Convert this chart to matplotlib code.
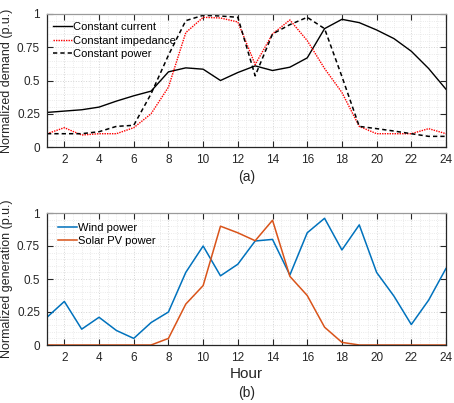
import matplotlib
matplotlib.use("Agg")
import matplotlib.pyplot as plt
from matplotlib.ticker import MultipleLocator

plt.rcParams['font.family'] = ['Liberation Sans', 'DejaVu Sans']

hours = list(range(1, 25))
const_current = [0.26, 0.27, 0.28, 0.30, 0.345, 0.385, 0.42, 0.565, 0.595, 0.585, 0.50, 0.56,
                 0.61, 0.575, 0.60, 0.67, 0.89, 0.96, 0.935, 0.88, 0.815, 0.72, 0.59, 0.434]
const_impedance = [0.10, 0.145, 0.09, 0.10, 0.10, 0.145, 0.25, 0.45, 0.86, 0.975, 0.97, 0.94,
                   0.62, 0.85, 0.955, 0.80, 0.59, 0.41, 0.155, 0.10, 0.10, 0.10, 0.138, 0.10]
const_power = [0.10, 0.10, 0.10, 0.115, 0.155, 0.163, 0.40, 0.69, 0.95, 0.99, 0.985, 0.975,
               0.535, 0.85, 0.92, 0.975, 0.89, 0.53, 0.155, 0.138, 0.12, 0.10, 0.08, 0.08]
wind = [0.21, 0.33, 0.12, 0.21, 0.11, 0.05, 0.17, 0.25, 0.55, 0.75, 0.524, 0.612,
        0.788, 0.80, 0.53, 0.85, 0.96, 0.72, 0.91, 0.55, 0.37, 0.155, 0.34, 0.58]
solar = [0, 0, 0, 0, 0, 0, 0, 0.05, 0.31, 0.45, 0.90, 0.85,
         0.79, 0.945, 0.52, 0.375, 0.135, 0.02, 0, 0, 0, 0, 0, 0]

xticks = list(range(2, 25, 2))
yticks = [0, 0.25, 0.5, 0.75, 1]
ytick_labels = ['0', '0.25', '0.5', '0.75', '1']

W, H = 454, 403
fig = plt.figure(figsize=(W/100, H/100), dpi=100)
TXT = '#262626'

def make_ax(left, bottom, right, top):
    ax = fig.add_axes([left/W, 1-bottom/H, (right-left)/W, (bottom-top)/H])
    ax.set_xlim(1, 24)
    ax.set_ylim(0, 1)
    ax.set_xticks(xticks)
    ax.set_yticks(yticks)
    ax.set_yticklabels(ytick_labels)
    ax.xaxis.set_minor_locator(MultipleLocator(0.5))
    ax.yaxis.set_minor_locator(MultipleLocator(0.05))
    ax.grid(True, which='major', color='#d4d4d4', linestyle=':', linewidth=0.7)
    ax.grid(True, which='minor', color='#e4e4e4', linestyle=':', linewidth=0.6)
    ax.tick_params(which='major', direction='in', top=True, right=True, length=4,
                   width=0.8, colors=TXT, labelsize=8.5, pad=5)
    ax.tick_params(which='minor', length=0)
    for s in ax.spines.values():
        s.set_color(TXT)
        s.set_linewidth(0.9)
    ax.spines['top'].set_color('#9a9a9a')
    ax.set_axisbelow(True)
    return ax

def add_legend(ax, x_px, y_px):
    ax.legend(loc='upper left', frameon=False, fontsize=8, handlelength=1.7,
              handletextpad=0.1, labelspacing=0.32, borderpad=0, borderaxespad=0,
              bbox_to_anchor=(x_px/W, 1-y_px/H), bbox_transform=fig.transFigure)

ax1 = make_ax(47, 147, 446, 14)
ax1.plot(hours, const_current, color='black', linestyle='-', linewidth=1.0, label='Constant current')
ax1.plot(hours, const_impedance, color='red', linestyle=(0, (1.0, 0.8)), linewidth=1.0,
         label='Constant impedance')
ax1.plot(hours, const_power, color='black', linestyle=(0, (2.8, 2.0)), linewidth=1.1,
         label='Constant power')
ax1.set_ylabel('Normalized demand (p.u.)', fontsize=9, color=TXT)
ax1.yaxis.set_label_coords(13/W, 1-80.5/H, transform=fig.transFigure)
add_legend(ax1, 53, 22)
fig.text(246.5/W, 1-177/H, '(a)', ha='center', va='center', fontsize=10, color=TXT)

ax2 = make_ax(47, 345, 446, 213)
ax2.plot(hours, wind, color='#0072BD', linewidth=1.1, label='Wind power')
ax2.plot(hours, solar, color='#D95319', linewidth=1.1, label='Solar PV power')
ax2.set_ylabel('Normalized generation (p.u.)', fontsize=9, color=TXT)
ax2.yaxis.set_label_coords(13/W, 1-279/H, transform=fig.transFigure)
add_legend(ax2, 58, 222.5)
fig.text(246.5/W, 1-374/H, 'Hour', ha='center', va='center', fontsize=11, color=TXT)
fig.text(246.5/W, 1-393/H, '(b)', ha='center', va='center', fontsize=10, color=TXT)

fig.savefig('out.png', dpi=100)
